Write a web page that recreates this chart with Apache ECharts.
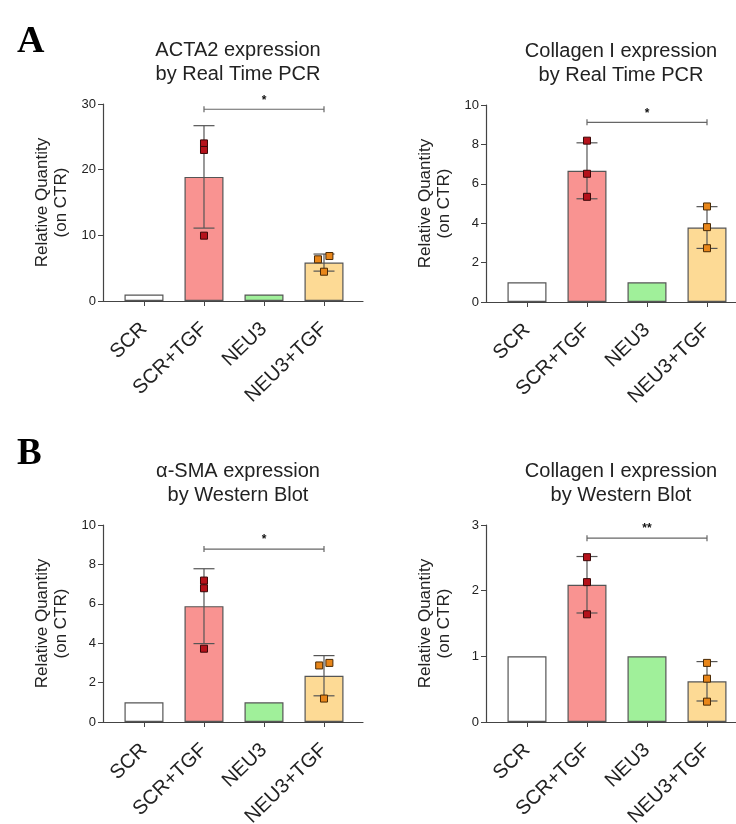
<!DOCTYPE html>
<html>
<head>
<meta charset="utf-8">
<script src="https://cdn.jsdelivr.net/npm/echarts@6/dist/echarts.min.js"></script>
<style>
  html, body { margin: 0; padding: 0; background: #fff; }
  #main { width: 736px; height: 824px; }
</style>
</head>
<body>
<div id="main"></div>
<script>
// groups on the x axis
var categories = ['SCR', 'SCR+TGF', 'NEU3', 'NEU3+TGF'];

// A left - ACTA2 by Real Time PCR
var actaMeans = [1, 18.9, 1, 5.85];
var actaSd = [0, 7.8, 0, 1.3];
var actaTgfPts = [24.0, 23.0, 9.95];
var actaNeuTgfPts = [6.35, 6.85, 4.46];

// A right - Collagen I by Real Time PCR
var colPcrMeans = [1, 6.66, 1, 3.78];
var colPcrSd = [0, 1.42, 0, 1.06];
var colPcrTgfPts = [8.19, 6.51, 5.34];
var colPcrNeuTgfPts = [4.85, 3.80, 2.73];

// B left - alpha-SMA by Western Blot
var smaMeans = [1, 5.88, 1, 2.35];
var smaSd = [0, 1.9, 0, 1.02];
var smaTgfPts = [7.18, 6.79, 3.72];
var smaNeuTgfPts = [2.87, 3.0, 1.19];

// B right - Collagen I by Western Blot
var colWbMeans = [1, 2.09, 1, 0.62];
var colWbSd = [0, 0.43, 0, 0.30];
var colWbTgfPts = [2.51, 2.13, 1.64];
var colWbNeuTgfPts = [0.90, 0.66, 0.31];

// significance brackets (SCR+TGF vs NEU3+TGF)
var bracketLevels = [29.2, 9.12, 8.78, 2.80];
var sigLabels = ['*', '*', '*', '**'];

var yMax = [30, 10, 10, 3];
var yStep = [10, 2, 2, 1];

var titles = [
  'ACTA2 expression\nby Real Time PCR',
  'Collagen I expression\nby Real Time PCR',
  '\u03b1-SMA expression\nby Western Blot',
  'Collagen I expression\nby Western Blot'
];

// styles
var barColors = ['#ffffff', '#f99391', '#a0f09a', '#fdda95'];
var tgfPtColor = '#b5121b';
var neuTgfPtColor = '#e8861a';
var axisColor = '#444';
var textColor = '#222';
var font = 'Liberation Sans';

var panels = [
  {means: actaMeans, sd: actaSd, tgf: actaTgfPts, neu: actaNeuTgfPts, jitter: [-0.1, 0.09, 0], left: 103, top: 104},
  {means: colPcrMeans, sd: colPcrSd, tgf: colPcrTgfPts, neu: colPcrNeuTgfPts, jitter: [0, 0, 0], left: 486, top: 105},
  {means: smaMeans, sd: smaSd, tgf: smaTgfPts, neu: smaNeuTgfPts, jitter: [-0.08, 0.09, 0], left: 103, top: 525},
  {means: colWbMeans, sd: colWbSd, tgf: colWbTgfPts, neu: colWbNeuTgfPts, jitter: [0, 0, 0], left: 486, top: 525}
];

var chart = echarts.init(document.getElementById('main'));

function renderErr(params, api) {
  var lo = api.coord([api.value(0), api.value(1)]);
  var hi = api.coord([api.value(0), api.value(2)]);
  var w = 10.5;
  var st = {stroke: '#555', lineWidth: 1.2};
  return {
    type: 'group',
    children: [
      {type: 'line', shape: {x1: lo[0], y1: lo[1], x2: hi[0], y2: hi[1]}, style: st},
      {type: 'line', shape: {x1: lo[0] - w, y1: lo[1], x2: lo[0] + w, y2: lo[1]}, style: st},
      {type: 'line', shape: {x1: hi[0] - w, y1: hi[1], x2: hi[0] + w, y2: hi[1]}, style: st}
    ]
  };
}

function makeBracket(label) {
  return function (params, api) {
    var a = api.coord([api.value(0), api.value(2)]);
    var b = api.coord([api.value(1), api.value(2)]);
    var st = {stroke: '#666', lineWidth: 1.2};
    return {
      type: 'group',
      children: [
        {type: 'line', shape: {x1: a[0], y1: a[1], x2: b[0], y2: b[1]}, style: st},
        {type: 'line', shape: {x1: a[0], y1: a[1] - 3, x2: a[0], y2: a[1] + 3}, style: st},
        {type: 'line', shape: {x1: b[0], y1: b[1] - 3, x2: b[0], y2: b[1] + 3}, style: st},
        {type: 'text', x: (a[0] + b[0]) / 2, y: a[1] - 9,
         style: {text: label, fill: '#111', font: 'bold 12px ' + font, align: 'center', verticalAlign: 'middle'}}
      ]
    };
  };
}

var grids = [], xAxes = [], yAxes = [], series = [], titleList = [];

titleList.push({text: 'A', left: 12, top: 18, textStyle: {fontFamily: 'Liberation Serif', fontWeight: 'bold', fontSize: 38, color: '#000'}});
titleList.push({text: 'B', left: 12, top: 431, textStyle: {fontFamily: 'Liberation Serif', fontWeight: 'bold', fontSize: 37, color: '#000'}});

panels.forEach(function (p, i) {
  grids.push({left: p.left, top: p.top, width: 260, height: 197, outerBoundsMode: 'none', containLabel: false});
  titleList.push({
    text: titles[i],
    left: p.left + 130,
    top: p.top - 71,
    textAlign: 'center',
    textStyle: {fontFamily: font, fontWeight: 'normal', fontSize: 20, lineHeight: 24, color: textColor}
  });
  xAxes.push({
    type: 'value', gridIndex: i, min: -0.683, max: 3.65,
    splitLine: {show: false},
    axisLine: {show: true, lineStyle: {color: axisColor, width: 1.2}},
    axisTick: {show: true, length: 5, customValues: [0, 1, 2, 3], lineStyle: {color: axisColor}},
    axisLabel: {
      customValues: [0, 1, 2, 3], rotate: 44, margin: 25,
      fontFamily: font, fontSize: 20, color: textColor,
      formatter: function (v) { return categories[Math.round(v)]; }
    }
  });
  yAxes.push({
    type: 'value', gridIndex: i, min: 0, max: yMax[i], interval: yStep[i],
    splitLine: {show: false},
    axisLine: {show: true, onZero: false, lineStyle: {color: axisColor, width: 1.2}},
    axisTick: {show: true, length: 5, lineStyle: {color: axisColor}},
    axisLabel: {fontFamily: font, fontSize: 13, color: textColor, margin: 7},
    name: 'Relative Quantity\n(on CTR)',
    nameLocation: 'middle', nameRotate: 90, nameGap: 32,
    nameTextStyle: {fontFamily: font, fontSize: 17, lineHeight: 19, color: textColor}
  });

  series.push({
    type: 'bar', xAxisIndex: i, yAxisIndex: i, barWidth: 39, z: 2,
    itemStyle: {borderColor: '#555', borderWidth: 1.2},
    data: p.means.map(function (v, k) {
      return {value: [k, v], itemStyle: {color: barColors[k]}};
    })
  });

  var errData = [];
  p.means.forEach(function (v, k) {
    if (p.sd[k] > 0) errData.push([k, v - p.sd[k], v + p.sd[k]]);
  });
  series.push({
    type: 'custom', xAxisIndex: i, yAxisIndex: i, z: 3,
    renderItem: renderErr, data: errData
  });

  series.push({
    type: 'scatter', xAxisIndex: i, yAxisIndex: i, z: 4,
    symbol: 'rect', symbolSize: 7,
    itemStyle: {color: tgfPtColor, borderColor: '#3a0808', borderWidth: 1, opacity: 1},
    data: p.tgf.map(function (v) { return [1, v]; })
  });
  series.push({
    type: 'scatter', xAxisIndex: i, yAxisIndex: i, z: 4,
    symbol: 'rect', symbolSize: 7,
    itemStyle: {color: neuTgfPtColor, borderColor: '#4a2a05', borderWidth: 1, opacity: 1},
    data: p.neu.map(function (v, k) { return [3 + p.jitter[k], v]; })
  });

  series.push({
    type: 'custom', xAxisIndex: i, yAxisIndex: i, z: 3, clip: false,
    renderItem: makeBracket(sigLabels[i]),
    data: [[1, 3, bracketLevels[i]]]
  });
});

chart.setOption({
  animation: false,
  backgroundColor: '#fff',
  title: titleList,
  grid: grids,
  xAxis: xAxes,
  yAxis: yAxes,
  series: series
});
</script>
</body>
</html>
